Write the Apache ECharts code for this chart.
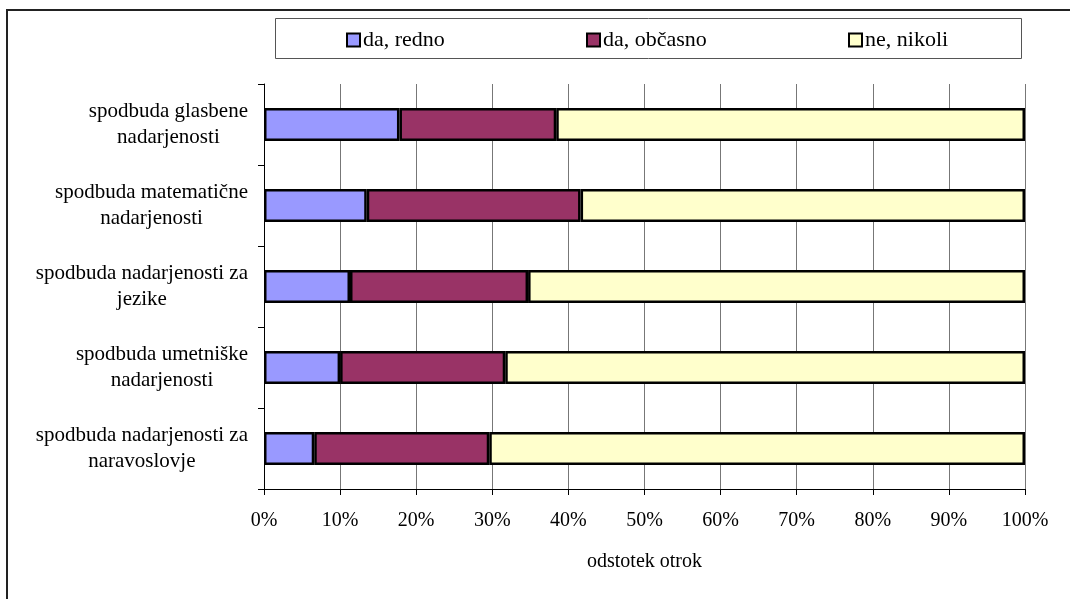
<!DOCTYPE html>
<html>
<head>
<meta charset="utf-8">
<script src="https://cdn.jsdelivr.net/npm/echarts@6/dist/echarts.min.js"></script>
<style>
html,body{margin:0;padding:0;background:#fff;}
#c{width:1070px;height:599px;}
</style>
</head>
<body>
<div id="c"></div>
<script>
const categories = [
  'spodbuda glasbene\nnadarjenosti',
  'spodbuda matematične\nnadarjenosti',
  'spodbuda nadarjenosti za\njezike',
  'spodbuda umetniške\nnadarjenosti',
  'spodbuda nadarjenosti za\nnaravoslovje'
];
const seriesNames = ['da, redno', 'da, občasno', 'ne, nikoli'];
const redno   = [17.8, 13.5, 11.3, 10.0, 6.6];
const obcasno = [20.6, 28.1, 23.4, 21.7, 23.0];
const nikoli  = [61.6, 58.4, 65.3, 68.3, 70.4];
const xTicks = [0, 10, 20, 30, 40, 50, 60, 70, 80, 90, 100];
const axisTitle = 'odstotek otrok';

const FONT = '"Liberation Serif", "Times New Roman", serif';
const colors = ['#9999FF', '#993366', '#FFFFCC'];
const values = [redno, obcasno, nikoli];
const legendLeft = [346, 586, 848];

const chart = echarts.init(document.getElementById('c'), null, {renderer: 'canvas'});

const series = seriesNames.map((name, i) => ({
  name: name,
  type: 'bar',
  stack: 'total',
  barWidth: 33,
  data: values[i],
  itemStyle: {color: colors[i], borderColor: '#000', borderWidth: 2.5},
  emphasis: {disabled: true},
  animation: false
}));

const legends = seriesNames.map((name, i) => ({
  data: [name],
  left: legendLeft[i],
  top: 27,
  padding: 0,
  icon: 'rect',
  itemWidth: 13,
  itemHeight: 13,
  itemStyle: {borderColor: '#000', borderWidth: 2},
  textStyle: {fontFamily: FONT, fontSize: 22, color: '#000', lineHeight: 24, padding: [2,0,0,-2]},
  selectedMode: false
}));

chart.setOption({
  animation: false,
  backgroundColor: '#fff',
  color: colors,
  graphic: [
    {type: 'rect', shape: {x: 7, y: 10, width: 1100, height: 700}, style: {fill: 'none', stroke: '#222', lineWidth: 2}, silent: true},
    {type: 'rect', shape: {x: 275.5, y: 18.5, width: 746, height: 40}, style: {fill: 'none', stroke: '#555', lineWidth: 1}, silent: true}
  ],
  legend: legends,
  grid: {left: 264, right: 45, top: 84, bottom: 110, containLabel: false},
  xAxis: {
    type: 'value',
    min: xTicks[0],
    max: xTicks[xTicks.length - 1],
    interval: 10,
    name: axisTitle,
    nameLocation: 'middle',
    nameGap: 63,
    nameTextStyle: {fontFamily: FONT, fontSize: 20, color: '#000'},
    axisLine: {show: true, lineStyle: {color: '#000', width: 1}},
    axisTick: {show: true, length: 6, lineStyle: {color: '#000'}},
    axisLabel: {fontFamily: FONT, fontSize: 20, color: '#000', margin: 22, formatter: '{value}%'},
    splitLine: {show: true, lineStyle: {color: '#777', width: 1}}
  },
  yAxis: {
    type: 'category',
    inverse: true,
    data: categories,
    axisLine: {show: true, lineStyle: {color: '#000', width: 1}},
    axisTick: {show: true, length: 6, lineStyle: {color: '#000'}},
    axisLabel: {
      margin: 16,
      formatter: function (v) { return v.split('\n').map(l => '{c|' + l + '}').join('\n'); },
      rich: {c: {align: 'center', fontFamily: FONT, fontSize: 21, lineHeight: 26, color: '#000'}}
    },
    splitLine: {show: false}
  },
  series: series
});
</script>
</body>
</html>
